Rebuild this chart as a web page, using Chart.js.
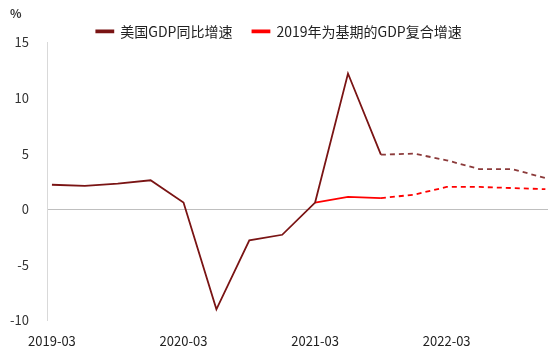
<!DOCTYPE html>
<html>
<head>
<meta charset="utf-8">
<script src="https://cdn.jsdelivr.net/npm/chart.js@4"></script>
<style>
  html, body { margin: 0; padding: 0; background: #fff; }
  #wrap { width: 556px; height: 362px; }
</style>
</head>
<body>
<div id="wrap"><canvas id="gdpChart"></canvas></div>
<script>
// quarters 2019-03 .. 2022-12
const quarters = ['2019-03', '2019-06', '2019-09', '2019-12',
                  '2020-03', '2020-06', '2020-09', '2020-12',
                  '2021-03', '2021-06', '2021-09', '2021-12',
                  '2022-03', '2022-06', '2022-09', '2022-12'];
const tickQuarters = ['2019-03', '2020-03', '2021-03', '2022-03'];

const usGdpYoy = [2.2, 2.1, 2.3, 2.6, 0.6, -9.0, -2.8, -2.3,
                  0.6, 12.2, 4.9, 5.0, 4.4, 3.6, 3.6, 2.8];
const cagr2019 = [null, null, null, null, null, null, null, null,
                  0.6, 1.1, 1.0, 1.3, 2.0, 2.0, 1.9, 1.8];

// forecast part starts after 2021-09
const lastActual = quarters.indexOf('2021-09');

const toPoints = arr => arr.map((v, i) => ({ x: i, y: v })).filter(p => p.y !== null);

const font = { family: '"Noto Sans CJK SC", "Noto Sans", sans-serif', size: 13 };

document.addEventListener('DOMContentLoaded', () => {
    const ctx = document.getElementById('gdpChart').getContext('2d');

    new Chart(ctx, {
        type: 'line',
        data: {
            datasets: [{
                label: '美国GDP同比增速',
                data: toPoints(usGdpYoy),
                borderColor: '#7a1414',
                backgroundColor: '#7a1414',
                borderWidth: 1.8,
                pointRadius: 0,
                tension: 0,
                segment: {
                    borderDash: c => c.p0.parsed.x >= lastActual ? [5, 4] : undefined,
                    borderColor: c => c.p0.parsed.x >= lastActual ? '#8c3b3b' : undefined
                }
            }, {
                label: '2019年为基期的GDP复合增速',
                data: toPoints(cagr2019),
                borderColor: '#ff0000',
                backgroundColor: '#ff0000',
                borderWidth: 1.8,
                pointRadius: 0,
                tension: 0,
                segment: {
                    borderDash: c => c.p0.parsed.x >= lastActual ? [5, 4] : undefined
                }
            }]
        },
        options: {
            responsive: true,
            maintainAspectRatio: false,
            animation: false,
            layout: { padding: { left: 10, right: 8, top: 4, bottom: 0 } },
            plugins: {
                title: {
                    display: true,
                    text: '%',
                    align: 'start',
                    color: '#333',
                    font: { ...font, size: 12 },
                    padding: { top: 2, bottom: -16 }
                },
                legend: {
                    position: 'top',
                    maxHeight: 38,
                    labels: {
                        color: '#222',
                        font: { ...font, size: 14 },
                        boxWidth: 17,
                        boxHeight: 2,
                        padding: 20
                    }
                },
                tooltip: { enabled: false }
            },
            scales: {
                x: {
                    type: 'linear',
                    min: -0.15,
                    max: 15.08,
                    afterBuildTicks: axis => {
                        axis.ticks = tickQuarters.map(q => ({ value: quarters.indexOf(q) }));
                    },
                    afterFit: axis => {
                        axis.paddingLeft = 0;
                        axis.paddingRight = 0;
                    },
                    ticks: {
                        callback: v => quarters[v],
                        color: '#222',
                        font: font,
                        padding: 13,
                        maxRotation: 0
                    },
                    grid: { display: false, drawTicks: false },
                    border: { display: false }
                },
                y: {
                    min: -10,
                    max: 15,
                    afterFit: axis => {
                        axis.width = 37;
                    },
                    ticks: {
                        stepSize: 5,
                        color: '#333',
                        font: font,
                        padding: 18
                    },
                    grid: {
                        drawTicks: false,
                        color: c => c.tick.value === 0 ? '#bfbfbf' : 'rgba(0,0,0,0)'
                    },
                    border: { color: '#d9d9d9' }
                }
            }
        }
    });
});
</script>
</body>
</html>
